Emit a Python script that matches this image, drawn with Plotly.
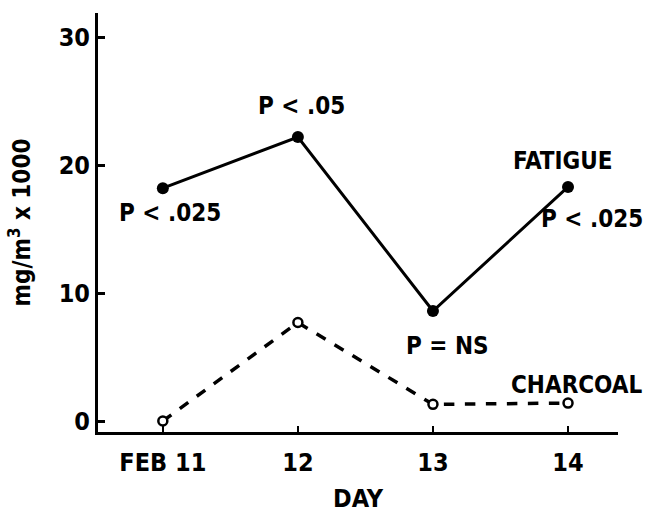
import plotly.graph_objects as go

days = [11, 12, 13, 14]
day_labels = ["FEB 11", "12", "13", "14"]
fatigue = [18.2, 22.2, 8.6, 18.3]
charcoal = [0.0, 7.7, 1.3, 1.4]
y_ticks = [0, 10, 20, 30]

ann_text = ["P < .025", "P < .05", "FATIGUE", "P = NS"]
ann_x = [11.05, 12.03, 13.96, 13.11]
ann_y = [16.3, 24.6, 20.3, 5.9]

# labels that sit right of the last day, placed in paper x
edge_text = ["P < .025", "CHARCOAL"]
edge_x = [1.052, 1.052]
edge_y = [15.8, 2.8]

FONT = "DejaVu Sans Condensed, Liberation Sans Narrow, Arial Narrow, sans-serif"

fig = go.Figure()
fig.add_trace(go.Scatter(
    x=days, y=fatigue, mode="lines+markers",
    line=dict(color="black", width=3),
    marker=dict(color="black", size=12),
    showlegend=False, cliponaxis=False))
fig.add_trace(go.Scatter(
    x=days, y=charcoal, mode="lines+markers",
    line=dict(color="black", width=3.5, dash="dash"),
    marker=dict(color="white", size=9, line=dict(color="black", width=2.5)),
    showlegend=False, cliponaxis=False))

for t, x, y in zip(ann_text, ann_x, ann_y):
    fig.add_annotation(x=x, y=y, text=t, showarrow=False,
                       font=dict(family=FONT, size=24, color="black", weight="bold"))
for t, x, y in zip(edge_text, edge_x, edge_y):
    fig.add_annotation(x=x, y=y, xref="paper", yref="y", text=t, showarrow=False,
                       xanchor="right",
                       font=dict(family=FONT, size=24, color="black", weight="bold"))

fig.update_layout(
    width=649, height=518,
    margin=dict(l=98, r=31, t=13, b=86),
    paper_bgcolor="white", plot_bgcolor="white",
    font=dict(family=FONT, color="black", weight="bold"),
    xaxis=dict(range=[10.52, 14.37], tickvals=days, ticktext=day_labels,
               showline=True, linecolor="black", linewidth=3,
               ticks="inside", ticklen=6, tickwidth=2, tickcolor="black",
               ticklabelstandoff=6, automargin=False,
               showgrid=False, zeroline=False,
               tickfont=dict(size=25, family=FONT, weight="bold"),
               title=dict(text="DAY", font=dict(size=25, family=FONT, weight="bold"), standoff=14)),
    yaxis=dict(range=[-0.86, 31.9], tickvals=y_ticks,
               showline=True, linecolor="black", linewidth=3,
               ticks="inside", ticklen=7, tickwidth=3, tickcolor="black",
               automargin=False,
               showgrid=False, zeroline=False,
               tickfont=dict(size=25, family=FONT, weight="bold"),
               title=dict(text="mg/m<sup>3</sup> x 1000", font=dict(size=24, family=FONT, weight="bold"), standoff=22)),
)

fig.write_html("out.html", post_script="document.body.style.margin='0';",
               config={"displayModeBar": False})
